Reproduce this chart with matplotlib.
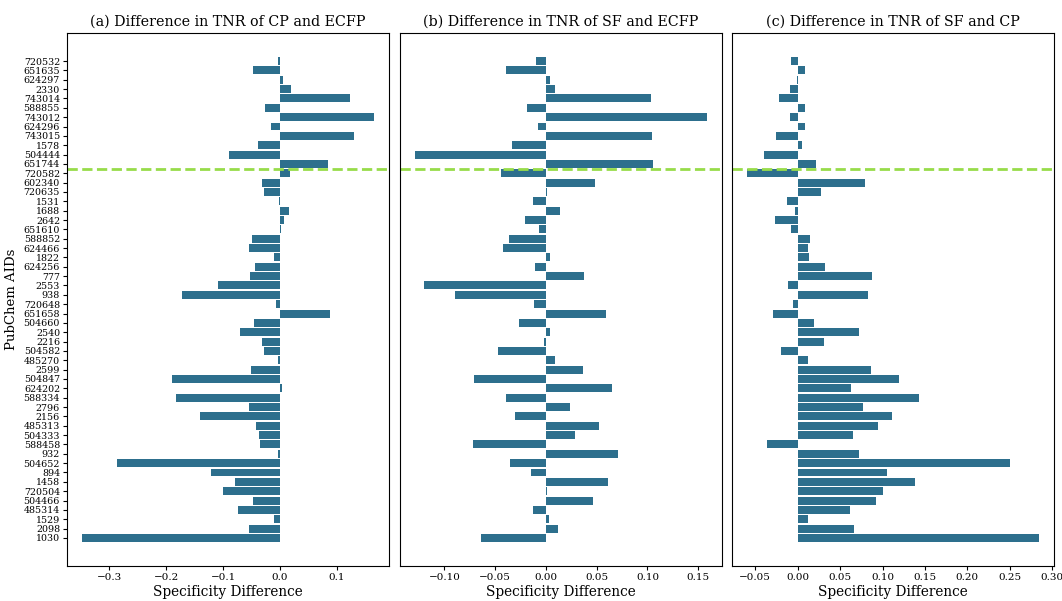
import numpy as np
import matplotlib
matplotlib.use("Agg")
import matplotlib.pyplot as plt

plt.rcParams['font.family'] = ['DejaVu Serif']

### Data (top row of the chart first) ###
aids = ['720532', '651635', '624297', '2330', '743014', '588855', '743012', '624296',
        '743015', '1578', '504444', '651744', '720582', '602340', '720635', '1531',
        '1688', '2642', '651610', '588852', '624466', '1822', '624256', '777',
        '2553', '938', '720648', '651658', '504660', '2540', '2216', '504582',
        '485270', '2599', '504847', '624202', '588334', '2796', '2156', '485313',
        '504333', '588458', '932', '504652', '894', '1458', '720504', '504466',
        '485314', '1529', '2098', '1030']

cp_ecfp = [-0.004, -0.047, 0.005, 0.019, 0.124, -0.026, 0.166, -0.016,
           0.130, -0.038, -0.089, 0.084, 0.0175, -0.0315, -0.028, -0.002,
           0.016, 0.007, 0.002, -0.049, -0.054, -0.0105, -0.044, -0.0525,
           -0.1086, -0.1716, -0.007, 0.0876, -0.0455, -0.070, -0.0315, -0.028,
           -0.003, -0.051, -0.189, 0.0035, -0.182, -0.054, -0.140, -0.042,
           -0.037, -0.035, -0.0035, -0.2855, -0.121, -0.079, -0.100, -0.047,
           -0.0735, -0.0105, -0.054, -0.3485]

sf_ecfp = [-0.010, -0.039, 0.004, 0.0088, 0.103, -0.0186, 0.159, -0.0078,
           0.104, -0.0333, -0.1294, 0.105, -0.044, 0.048, 0.001, -0.0127,
           0.0137, -0.0206, -0.0069, -0.0363, -0.042, 0.004, -0.0108, 0.0373,
           -0.1206, -0.0892, -0.0118, 0.0588, -0.0265, 0.004, -0.002, -0.047,
           0.0088, 0.0363, -0.0706, 0.0647, -0.0392, 0.0235, -0.0304, 0.052,
           0.0284, -0.0716, 0.0706, -0.0353, -0.0147, 0.0608, 0.001, 0.046,
           -0.0127, 0.003, 0.0118, -0.0637]

sf_cp = [-0.0082, 0.0082, -0.0012, -0.0094, -0.0224, 0.0082, -0.0094, 0.0082,
         -0.0259, 0.0047, -0.040, 0.0212, -0.060, 0.0788, 0.027, -0.0129,
         -0.0035, -0.027, -0.0082, 0.0141, 0.0118, 0.0129, 0.0318, 0.088,
         -0.0118, 0.0835, -0.0059, -0.0294, 0.0188, 0.0729, 0.0306, -0.020,
         0.0118, 0.087, 0.120, 0.0624, 0.1435, 0.0765, 0.1106, 0.0941,
         0.0647, -0.0365, 0.0729, 0.2506, 0.1047, 0.1388, 0.100, 0.0929,
         0.0612, 0.0118, 0.0659, 0.2847]

titles = ['(a) Difference in TNR of CP and ECFP',
          '(b) Difference in TNR of SF and ECFP',
          '(c) Difference in TNR of SF and CP']

# the dashed separator sits between 651744 and 720582
splitAfter = '651744'

barColor = '#2d6f8d'
lineColor = '#97dc4a'

fig = plt.figure(figsize=(10.62, 6.01), dpi=100, facecolor='w')

nBars = len(aids)
yPos = np.arange(nBars)[::-1]
ySplit = yPos[aids.index(splitAfter)] - 0.5

axLefts = [67, 400, 732]
axWidth = 322
series = [cp_ecfp, sf_ecfp, sf_cp]

for i in range(3):
    ax = fig.add_axes([axLefts[i] / 1062, 35 / 601, axWidth / 1062, 533 / 601])
    ax.barh(yPos, series[i], height=0.85, color=barColor)
    ax.axhline(ySplit, color=lineColor, linestyle='--', linewidth=2)
    ax.set_ylim(-3, nBars + 2)
    ax.set_title(titles[i], fontsize=10.3, pad=5)
    ax.set_xlabel('Specificity Difference', fontsize=9.8, labelpad=2)
    ax.tick_params(axis='x', labelsize=7.5, length=3, pad=2)
    if i == 0:
        ax.set_yticks(yPos)
        ax.set_yticklabels(aids, fontsize=6.8)
        ax.tick_params(axis='y', length=3, pad=2)
        ax.set_ylabel('PubChem AIDs', fontsize=9.5, labelpad=4)
    else:
        ax.set_yticks([])

plt.savefig('out.png', dpi=100)
plt.close(fig)
